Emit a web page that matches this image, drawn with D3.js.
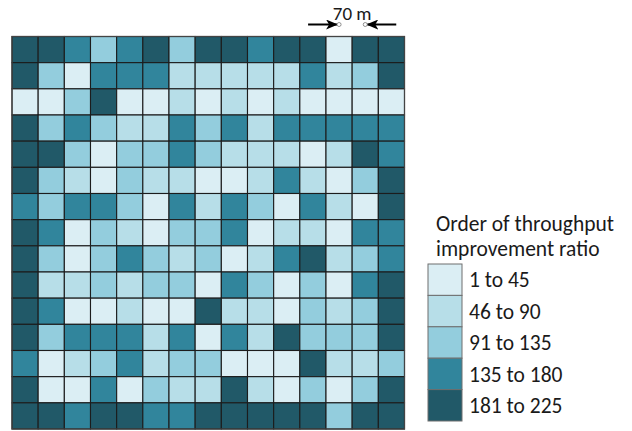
<!DOCTYPE html>
<html>
<head>
<meta charset="utf-8">
<script src="https://cdn.jsdelivr.net/npm/d3@7"></script>
<style>
  body { margin: 0; background: #fff; }
  text { font-family: Carlito, Calibri, Lato, sans-serif; fill: #1a1a1a; }
</style>
</head>
<body>
<svg id="chart"></svg>
<script>
// order class of each cell, row by row from the top (1 = lowest, 5 = highest)
let cellLevels = [
  [5,5,4,3,4,5,3,5,5,4,5,5,1,5,5],
  [5,3,1,4,4,4,2,2,2,2,2,4,2,3,5],
  [1,1,3,5,1,1,2,1,2,1,2,1,1,1,1],
  [5,3,4,3,2,2,4,3,4,2,4,4,4,4,4],
  [5,5,3,1,3,3,4,3,2,2,2,1,2,5,4],
  [5,3,2,1,3,2,2,1,1,2,4,2,1,3,5],
  [4,3,4,4,3,1,4,2,4,3,1,4,2,1,5],
  [5,4,1,3,2,1,3,3,4,1,2,2,1,4,4],
  [5,3,1,3,4,3,2,3,1,2,4,5,2,3,4],
  [5,2,2,3,2,3,3,1,4,3,1,3,1,4,5],
  [5,4,1,1,2,1,1,5,2,2,1,3,2,3,5],
  [5,3,4,4,4,2,4,1,4,2,5,3,3,3,5],
  [4,1,2,3,4,2,3,3,1,1,1,5,2,2,3],
  [5,1,1,4,1,3,2,2,5,2,1,3,1,3,5],
  [5,5,4,5,5,4,4,5,5,5,5,5,3,5,5]
];

let levels = [1, 2, 3, 4, 5];
let levelLabels = ['1 to 45', '46 to 90', '91 to 135', '135 to 180', '181 to 225'];
let levelColors = ['#dbeef4', '#b7dee8', '#93cddd', '#31859c', '#215968'];
let legendTitle = ['Order of throughput', 'improvement ratio'];
let spacingLabel = '70 m';
let spacingCells = [12, 13]; // columns whose centres the arrows point at

let svgWidth = 632,
    svgHeight = 431;

let svg = d3.select('#chart')
            .attr('width', svgWidth)
            .attr('height', svgHeight);

let nCols = cellLevels[0].length,
    nRows = cellLevels.length;

let xScale = d3.scaleBand()
               .domain(d3.range(nCols))
               .range([12, 404.5]);

let yScale = d3.scaleBand()
               .domain(d3.range(nRows))
               .range([36.5, 429]);

let colorScale = d3.scaleOrdinal()
                   .domain(levels)
                   .range(levelColors);

// flatten grid into cells
let cells = [];
cellLevels.forEach((row, r) => {
  row.forEach((v, c) => cells.push({ r: r, c: c, v: v }));
});

svg.append('g')
   .selectAll('rect')
   .data(cells)
   .enter()
   .append('rect')
   .attr('x', d => xScale(d.c))
   .attr('y', d => yScale(d.r))
   .attr('width', xScale.bandwidth())
   .attr('height', yScale.bandwidth())
   .attr('fill', d => colorScale(d.v))
   .attr('stroke', '#1c1c1c')
   .attr('stroke-width', 1.1);

svg.append('rect')
   .attr('x', xScale.range()[0])
   .attr('y', yScale.range()[0])
   .attr('width', xScale.range()[1] - xScale.range()[0])
   .attr('height', yScale.range()[1] - yScale.range()[0])
   .attr('fill', 'none')
   .attr('stroke', '#444')
   .attr('stroke-width', 1.2);

// spacing annotation above the grid
svg.append('defs')
   .append('marker')
   .attr('id', 'head')
   .attr('viewBox', '0 0 12 10')
   .attr('refX', 11)
   .attr('refY', 5)
   .attr('markerWidth', 12)
   .attr('markerHeight', 10)
   .attr('markerUnits', 'userSpaceOnUse')
   .attr('orient', 'auto')
   .append('path')
   .attr('d', 'M0,0 L12,5 L0,10 L3,5 Z')
   .attr('fill', '#000');

let cx1 = xScale(spacingCells[0]) + xScale.bandwidth() / 2,
    cx2 = xScale(spacingCells[1]) + xScale.bandwidth() / 2,
    arrowY = 24.5;

svg.append('line')
   .attr('x1', cx1 - 31).attr('x2', cx1 - 2)
   .attr('y1', arrowY).attr('y2', arrowY)
   .attr('stroke', '#000').attr('stroke-width', 2)
   .attr('marker-end', 'url(#head)');

svg.append('line')
   .attr('x1', cx2 + 31).attr('x2', cx2 + 2)
   .attr('y1', arrowY).attr('y2', arrowY)
   .attr('stroke', '#000').attr('stroke-width', 2)
   .attr('marker-end', 'url(#head)');

svg.selectAll('circle.pt')
   .data([cx1, cx2])
   .enter()
   .append('circle')
   .attr('class', 'pt')
   .attr('cx', d => d)
   .attr('cy', arrowY)
   .attr('r', 2)
   .attr('fill', '#fff')
   .attr('stroke', '#777')
   .attr('stroke-width', 0.8);

svg.append('text')
   .attr('x', (cx1 + cx2) / 2)
   .attr('y', 19.5)
   .attr('text-anchor', 'middle')
   .attr('font-size', 19)
   .text(spacingLabel);

// legend
let legendX = 428,
    legendW = 34;

let legendY = d3.scaleBand()
                .domain(levels)
                .range([264, 421]);

svg.append('g')
   .selectAll('text')
   .data(legendTitle)
   .enter()
   .append('text')
   .attr('x', 436)
   .attr('y', (d, i) => 231 + i * 25)
   .attr('font-size', 21.5)
   .text(d => d);

let legend = svg.append('g')
                .selectAll('g')
                .data(levels)
                .enter()
                .append('g');

legend.append('rect')
      .attr('x', legendX)
      .attr('y', d => legendY(d))
      .attr('width', legendW)
      .attr('height', legendY.bandwidth())
      .attr('fill', d => colorScale(d))
      .attr('stroke', '#6f6f6f')
      .attr('stroke-width', 1);

legend.append('text')
      .attr('x', 469)
      .attr('y', d => legendY(d) + legendY.bandwidth() / 2)
      .attr('dy', '0.36em')
      .attr('font-size', 21.5)
      .text((d, i) => levelLabels[i]);
</script>
</body>
</html>
